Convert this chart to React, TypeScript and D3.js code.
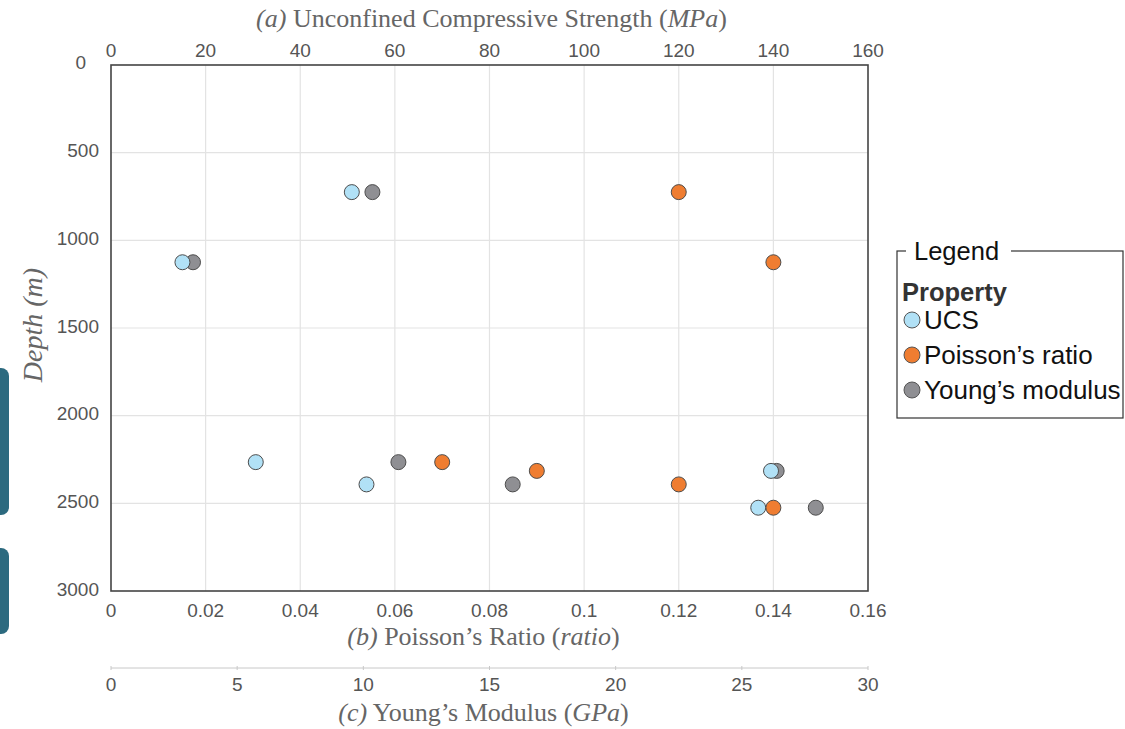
import React from 'react';
import * as d3 from 'd3';

// readings from the figure
const depths = [725, 1125, 2265, 2315, 2392, 2525];
const ucsValues = [50.9, 15.1, 30.6, 139.5, 54.0, 136.8];
const poissonValues = [0.12, 0.14, 0.07, 0.09, 0.12, 0.14];
const youngValues = [10.36, 3.25, 11.39, 26.38, 15.92, 27.93];

const ucsTicks = [0, 20, 40, 60, 80, 100, 120, 140, 160];
const poissonTicks = [0, 0.02, 0.04, 0.06, 0.08, 0.1, 0.12, 0.14, 0.16];
const youngTicks = [0, 5, 10, 15, 20, 25, 30];
const depthTicks = [0, 500, 1000, 1500, 2000, 2500, 3000];

const legendLabels = ['UCS', 'Poisson\u2019s ratio', 'Young\u2019s modulus'];
const legendColors = ['#b1e1f6', '#ef7d31', '#8f8f93'];

const W = 1125;
const H = 729;
const margin = { top: 65, left: 111, right: 257, bottom: 138 };
const innerW = W - margin.left - margin.right;
const innerH = H - margin.top - margin.bottom;

const sans = 'Liberation Sans, Arial, sans-serif';
const serif = 'Liberation Serif, Times New Roman, serif';
const tickSize = 19;
const titleSize = 26;

const App = () => {
  const x = d3.scaleLinear().domain([0, 160]).range([0, innerW]);
  const xb = d3.scaleLinear().domain([0, 0.16]).range([0, innerW]);
  const xc = d3.scaleLinear().domain([0, 30]).range([0, innerW]);
  const y = d3.scaleLinear().domain([0, 3000]).range([0, innerH]);

  const cx = margin.left + innerW / 2 - 6;

  const pts = (vals: number[], sc: d3.ScaleLinear<number, number>, color: string, key: string) =>
    vals.map((v, i) => (
      <circle key={key + i} cx={sc(v)} cy={y(depths[i])} r={7.5}
        fill={color} stroke="#4d4d4d" strokeWidth={1} />
    ));

  return (
    <div style={{ position: 'absolute', left: 0, top: 0 }}>
      <svg width={W} height={H} style={{ display: 'block', background: '#fff' }}>
        {/* stray tabs at the left edge */}
        <rect x={-20} y={368} width={29} height={147} rx={8} fill="#2c6a7f" />
        <rect x={-20} y={548} width={29} height={86} rx={8} fill="#2c6a7f" />

        <text x={cx + 8} y={18} dy="0.35em" textAnchor="middle" fontFamily={serif} fontSize={titleSize} fill="#666">
          <tspan fontStyle="italic">(a)</tspan> Unconfined Compressive Strength (<tspan fontStyle="italic">MPa</tspan>)
        </text>

        <g transform={`translate(${margin.left},${margin.top})`}>
          {ucsTicks.slice(1, -1).map(t => (
            <line key={'gx' + t} x1={x(t)} x2={x(t)} y1={0} y2={innerH} stroke="#e3e3e3" strokeWidth={1.2} />
          ))}
          {depthTicks.slice(1, -1).map(t => (
            <line key={'gy' + t} x1={0} x2={innerW} y1={y(t)} y2={y(t)} stroke="#e3e3e3" strokeWidth={1.2} />
          ))}
          <rect x={0} y={0} width={innerW} height={innerH} fill="none" stroke="#444" strokeWidth={1.6} />

          {ucsTicks.map(t => (
            <text key={'ta' + t} x={x(t)} y={-15} dy="0.35em" textAnchor="middle" fontFamily={sans} fontSize={tickSize} fill="#555">{t}</text>
          ))}
          {depthTicks.map(t => (
            <text key={'ty' + t} x={t === 0 ? -25 : -12} y={t === 0 ? y(t) - 3 : y(t) - 2} dy="0.35em" textAnchor="end"
              fontFamily={sans} fontSize={tickSize} fill="#555">{t}</text>
          ))}
          {poissonTicks.map(t => (
            <text key={'tb' + t} x={xb(t)} y={innerH + 19} dy="0.35em" textAnchor="middle" fontFamily={sans} fontSize={tickSize} fill="#555">{t}</text>
          ))}

          <line x1={0} x2={innerW} y1={innerH + 77} y2={innerH + 77} stroke="#c8c8c8" strokeWidth={1} />
          {youngTicks.map(t => (
            <g key={'tc' + t}>
              <line x1={xc(t)} x2={xc(t)} y1={innerH + 75} y2={innerH + 79} stroke="#c8c8c8" />
              <text x={xc(t)} y={innerH + 93} dy="0.35em" textAnchor="middle" fontFamily={sans} fontSize={tickSize} fill="#555">{t}</text>
            </g>
          ))}

          {pts(youngValues, xc, legendColors[2], 'yg')}
          {pts(ucsValues, x, legendColors[0], 'uc')}
          {pts(poissonValues, xb, legendColors[1], 'po')}
        </g>

        <text x={cx} y={636} dy="0.35em" textAnchor="middle" fontFamily={serif} fontSize={titleSize} fill="#666">
          <tspan fontStyle="italic">(b)</tspan> Poisson{'\u2019'}s Ratio (<tspan fontStyle="italic">ratio</tspan>)
        </text>
        <text x={cx} y={712} dy="0.35em" textAnchor="middle" fontFamily={serif} fontSize={titleSize} fill="#666">
          <tspan fontStyle="italic">(c)</tspan> Young{'\u2019'}s Modulus (<tspan fontStyle="italic">GPa</tspan>)
        </text>
        <text transform={`translate(32,${margin.top + innerH / 2 - 3}) rotate(-90)`} dy="0.35em" textAnchor="middle"
          fontFamily={serif} fontStyle="italic" fontSize={28} fill="#666">Depth (m)</text>

        {/* legend */}
        <g transform="translate(897,251)">
          <rect x={0} y={0} width={226} height={167} fill="none" stroke="#333" strokeWidth={1.2} />
          <rect x={9} y={-14} width={105} height={28} fill="#fff" />
          <text x={17} y={0} dy="0.35em" fontFamily={sans} fontSize={25.5} fill="#111">Legend</text>
          <text x={5} y={41} dy="0.35em" fontFamily={sans} fontSize={25.5} fontWeight="bold" fill="#333">Property</text>
          {legendLabels.map((l, i) => (
            <g key={l} transform={`translate(0,${69 + i * 35})`}>
              <circle cx={15} cy={0} r={8} fill={legendColors[i]} stroke="#555" strokeWidth={1} />
              <text x={27} y={0} dy="0.35em" fontFamily={sans} fontSize={26} fill="#111">{l}</text>
            </g>
          ))}
        </g>
      </svg>
    </div>
  );
};

export default App;
